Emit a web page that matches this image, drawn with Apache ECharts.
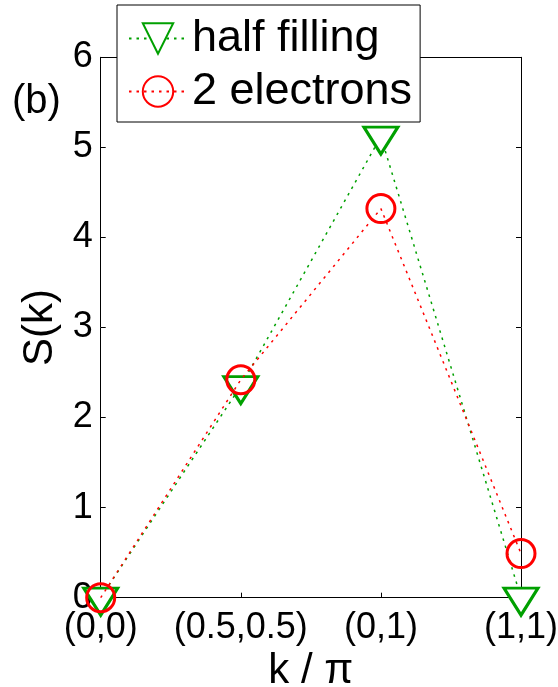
<!DOCTYPE html>
<html>
<head>
<meta charset="utf-8">
<script src="https://cdn.jsdelivr.net/npm/echarts@6/dist/echarts.min.js"></script>
<style>
html,body{margin:0;padding:0;background:#fff;}
#chart{width:558px;height:687px;}
</style>
</head>
<body>
<div id="chart"></div>
<script>
const categories = ['(0,0)', '(0.5,0.5)', '(0,1)', '(1,1)'];
const halfFilling = [0, 2.35, 5.12, 0];
const twoElectrons = [0, 2.42, 4.32, 0.49];
const seriesNames = ['half filling', '2 electrons'];
const yMin = 0, yMax = 6, yStep = 1;

const FONT = "'Liberation Sans', Arial, sans-serif";
const GREEN = '#00a000';
const RED = '#ff0000';

const chart = echarts.init(document.getElementById('chart'), null, {renderer: 'canvas'});

const tickStyle = {show: true, inside: true, length: 5, lineStyle: {color: '#000', width: 1}};
const lineAx = {show: true, onZero: false, lineStyle: {color: '#000', width: 1}};

chart.setOption({
  animation: false,
  backgroundColor: '#fff',
  textStyle: {fontFamily: FONT},
  grid: {left: 100.7, right: 37, top: 57.3, bottom: 89.3, show: false, containLabel: false, outerBoundsMode: 'none'},
  xAxis: [
    {
      type: 'category', data: categories, boundaryGap: false, position: 'bottom',
      axisLine: lineAx, axisTick: Object.assign({}, tickStyle, {alignWithLabel: true}),
      axisLabel: {color: '#000', fontSize: 36, fontFamily: FONT, margin: 12, interval: 0, showMinLabel: true, showMaxLabel: true},
      splitLine: {show: false},
      name: 'k / π', nameLocation: 'middle', nameGap: 43,
      nameTextStyle: {color: '#000', fontSize: 42, fontFamily: FONT}
    },
    {
      type: 'category', data: categories, boundaryGap: false, position: 'top',
      axisLine: lineAx, axisTick: tickStyle, axisLabel: {show: false}, splitLine: {show: false}
    }
  ],
  yAxis: [
    {
      type: 'value', min: yMin, max: yMax, interval: yStep, position: 'left',
      axisLine: lineAx, axisTick: tickStyle,
      axisLabel: {color: '#000', fontSize: 36, fontFamily: FONT, margin: 8},
      splitLine: {show: false},
      name: 'S(k)', nameLocation: 'middle', nameGap: 37,
      nameTextStyle: {color: '#000', fontSize: 42, fontFamily: FONT}
    },
    {
      type: 'value', min: yMin, max: yMax, interval: yStep, position: 'right',
      axisLine: lineAx, axisTick: tickStyle, axisLabel: {show: false}, splitLine: {show: false}
    }
  ],
  legend: {
    orient: 'vertical', left: 117, top: 5,
    padding: [7, 8, 4, 11],
    itemGap: 0, itemWidth: 58, itemHeight: 38,
    backgroundColor: '#fff', borderColor: '#000', borderWidth: 1,
    textStyle: {color: '#000', fontSize: 45, fontFamily: FONT, lineHeight: 53},
    data: seriesNames,
    z: 10
  },
  graphic: [
    {type: 'text', left: 12, top: 82, style: {text: '(b)', fontSize: 40, fontFamily: FONT, fill: '#000'}}
  ],
  series: [
    {
      name: seriesNames[0], type: 'line', data: halfFilling, clip: false,
      symbol: 'triangle', symbolRotate: 180, symbolSize: [34, 27], symbolOffset: [0, 4],
      itemStyle: {color: '#fff', borderColor: GREEN, borderWidth: 3},
      lineStyle: {color: GREEN, width: 1.5, type: [2.5, 5]},
      z: 3
    },
    {
      name: seriesNames[1], type: 'line', data: twoElectrons, clip: false,
      symbol: 'circle', symbolSize: 28,
      itemStyle: {color: 'rgba(255,255,255,0)', borderColor: RED, borderWidth: 3},
      lineStyle: {color: RED, width: 1.5, type: [2.5, 5]},
      z: 4
    }
  ]
});
</script>
</body>
</html>
